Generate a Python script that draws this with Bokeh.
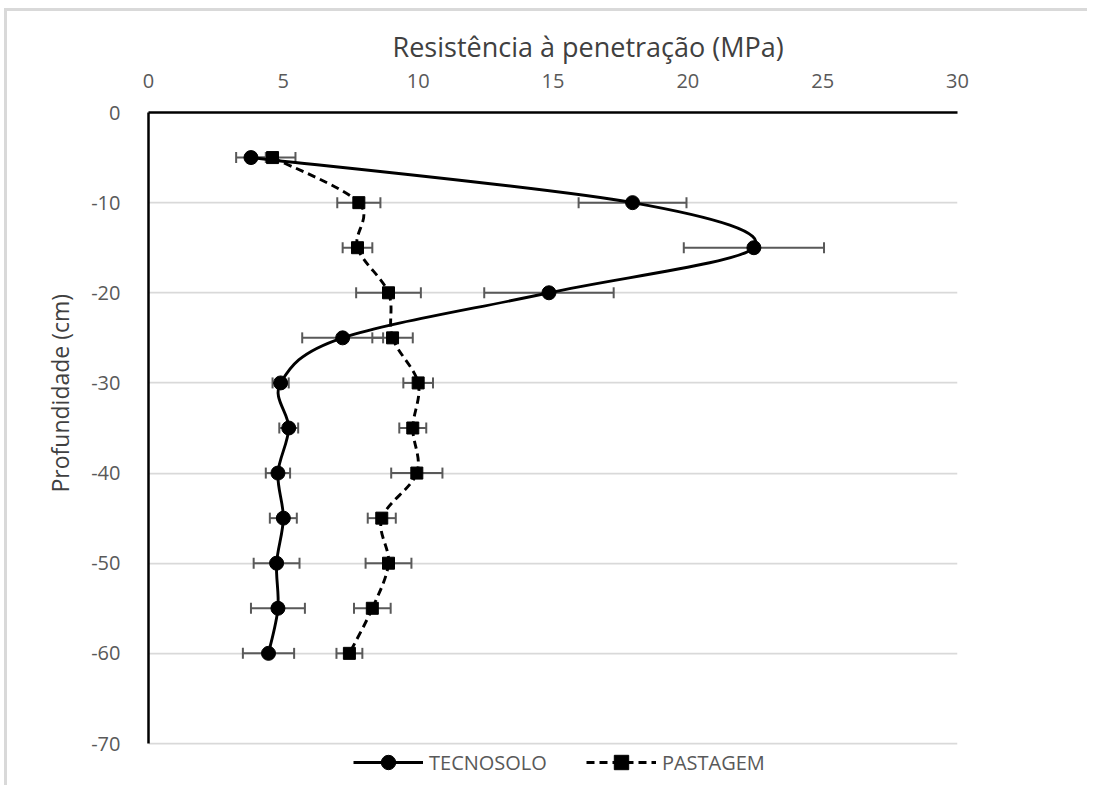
from bokeh.plotting import figure
from bokeh.models import (ColumnDataSource, Whisker, TeeHead, LegendItem, Legend,
                          FixedTicker, Range1d, Title)
from bokeh.embed import file_html
from bokeh.resources import INLINE

# ---- data ----
depth = [-5, -10, -15, -20, -25, -30, -35, -40, -45, -50, -55, -60]
tecnosolo = [3.8, 17.95, 22.45, 14.85, 7.2, 4.9, 5.2, 4.8, 5.0, 4.75, 4.8, 4.45]
tecnosolo_err = [0.55, 2.0, 2.6, 2.4, 1.5, 0.3, 0.35, 0.45, 0.5, 0.85, 1.0, 0.95]
pastagem = [4.6, 7.8, 7.75, 8.9, 9.05, 10.0, 9.8, 9.95, 8.65, 8.9, 8.3, 7.45]
pastagem_err = [0.85, 0.8, 0.55, 1.2, 0.75, 0.55, 0.5, 0.95, 0.52, 0.85, 0.68, 0.48]
x_ticks = [0, 5, 10, 15, 20, 25, 30]
y_ticks = [0, -10, -20, -30, -40, -50, -60, -70]
x_title = "Resistência à penetração (MPa)"
y_title = "Profundidade (cm)"
series_names = ["TECNOSOLO", "PASTAGEM"]

FONT = "Open Sans"
TXT = "#595959"

# plotting frame: the axis spans 0..-70 over 631 px; the frame is extended a
# little below -70 to host the legend (the axis itself is bounded to 0..-70)
AXIS_PX = 631
FRAME_H = 669
y_lo = min(y_ticks) * FRAME_H / AXIS_PX


def smooth_segments(xs, ys):
    """Bezier control points for a smoothed line (Catmull-Rom style)."""
    n = len(xs)
    out = dict(x0=[], y0=[], x1=[], y1=[], cx0=[], cy0=[], cx1=[], cy1=[])
    for i in range(n - 1):
        a = i - 1 if i > 0 else i
        d = i + 2 if i + 2 < n else i + 1
        out["x0"].append(xs[i]); out["y0"].append(ys[i])
        out["x1"].append(xs[i + 1]); out["y1"].append(ys[i + 1])
        out["cx0"].append(xs[i] + (xs[i + 1] - xs[a]) / 6.0)
        out["cy0"].append(ys[i] + (ys[i + 1] - ys[a]) / 6.0)
        out["cx1"].append(xs[i + 1] - (xs[d] - xs[i]) / 6.0)
        out["cy1"].append(ys[i + 1] - (ys[d] - ys[i]) / 6.0)
    return out


p = figure(frame_width=809, frame_height=FRAME_H,
           min_border_left=141, min_border_right=130,
           min_border_top=101, min_border_bottom=4,
           x_range=Range1d(min(x_ticks), max(x_ticks)),
           y_range=Range1d(y_lo, max(y_ticks)),
           x_axis_location="above",
           output_backend="svg", toolbar_location=None,
           background_fill_color="white", border_fill_color="white")
p.outline_line_color = None
p.styles = {"border-top": "3px solid #d9d9d9", "border-left": "3px solid #d9d9d9",
            "margin-left": "4px", "margin-top": "8px"}

# grid
p.xgrid.visible = False
p.ygrid.ticker = FixedTicker(ticks=y_ticks)
p.ygrid.grid_line_color = "#d9d9d9"
p.ygrid.grid_line_width = 1.75

# axes
for ax in (p.xaxis[0], p.yaxis[0]):
    ax.axis_line_color = "black"
    ax.axis_line_width = 2.5
    ax.major_tick_line_color = None
    ax.minor_tick_line_color = None
    ax.major_label_text_font = FONT
    ax.major_label_text_font_size = "20px"
    ax.major_label_text_color = TXT

p.xaxis.ticker = FixedTicker(ticks=x_ticks)
p.yaxis.ticker = FixedTicker(ticks=y_ticks)
p.yaxis.bounds = (min(y_ticks), max(y_ticks))
p.yaxis.major_label_overrides = {t: str(t) for t in y_ticks}
p.xaxis.major_label_standoff = 19
p.yaxis.major_label_standoff = 22

# axis titles as side-panel titles (allow an offset along the axis)
p.add_layout(Title(text=x_title, align="left", offset=244, standoff=12,
                   text_font=FONT, text_font_size="27px",
                   text_font_style="normal", text_color="#404040"), "above")
p.add_layout(Title(text=y_title, align="left", offset=251 + (FRAME_H - AXIS_PX),
                   standoff=26,
                   text_font=FONT, text_font_size="23px",
                   text_font_style="normal", text_color="#404040"), "left")

# error bars
def add_err(xs, errs):
    src = ColumnDataSource(dict(y=depth,
                                lo=[x - e for x, e in zip(xs, errs)],
                                hi=[x + e for x, e in zip(xs, errs)]))
    w = Whisker(source=src, base="y", lower="lo", upper="hi", dimension="width",
                line_color=TXT, line_width=2,
                upper_head=TeeHead(size=11, line_color=TXT, line_width=2),
                lower_head=TeeHead(size=11, line_color=TXT, line_width=2))
    w.level = "underlay"
    p.add_layout(w)

add_err(tecnosolo, tecnosolo_err)
add_err(pastagem, pastagem_err)

# smoothed lines
bt = p.bezier(source=ColumnDataSource(smooth_segments(tecnosolo, depth)),
              x0="x0", y0="y0", x1="x1", y1="y1", cx0="cx0", cy0="cy0",
              cx1="cx1", cy1="cy1", line_color="black", line_width=2.9)
bp = p.bezier(source=ColumnDataSource(smooth_segments(pastagem, depth)),
              x0="x0", y0="y0", x1="x1", y1="y1", cx0="cx0", cy0="cy0",
              cx1="cx1", cy1="cy1", line_color="black", line_width=2.9,
              line_dash="8 5")

st = p.scatter(tecnosolo, depth, marker="circle", size=14,
               fill_color="black", line_color="black")
sp = p.scatter(pastagem, depth, marker="square", size=12,
               fill_color="black", line_color="black")

legend = Legend(items=[LegendItem(label=series_names[0], renderers=[bt, st]),
                       LegendItem(label=series_names[1], renderers=[bp, sp])],
                orientation="horizontal", location=(205, 1),
                glyph_width=70, glyph_height=36, label_standoff=6, spacing=39,
                padding=0, margin=0, border_line_color=None,
                background_fill_alpha=0,
                label_text_font=FONT, label_text_font_size="20px",
                label_text_color=TXT)
p.add_layout(legend, "center")

open("out.html", "w").write(file_html(p, INLINE))
